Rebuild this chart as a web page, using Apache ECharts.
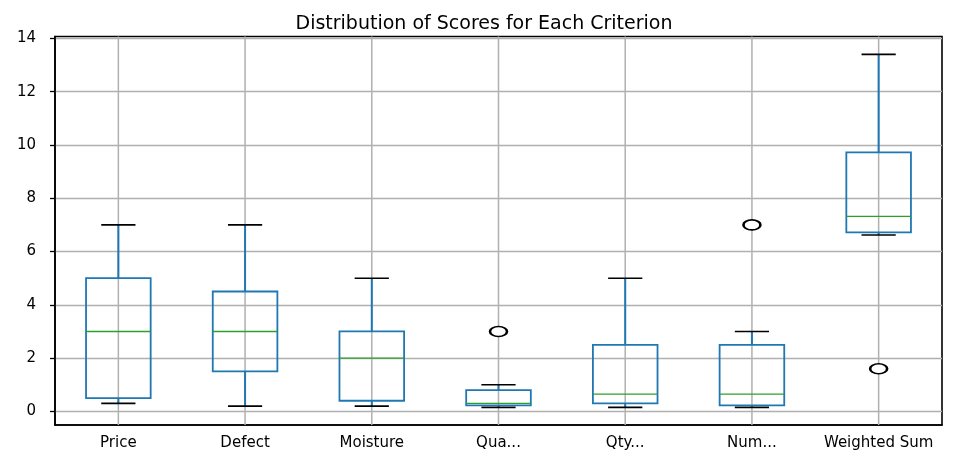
<!DOCTYPE html>
<html>
<head>
<meta charset="utf-8">
<script src="https://cdn.jsdelivr.net/npm/echarts@6/dist/echarts.min.js"></script>
<style>html,body{margin:0;padding:0;background:#fff}#c{width:968px;height:451px}</style>
</head>
<body>
<div id="c"></div>
<script>
const categories = ['Price', 'Defect', 'Moisture', 'Qua...', 'Qty...', 'Num...', 'Weighted Sum'];
const whiskerLow = [0.3, 0.2, 0.2, 0.15, 0.15, 0.15, 6.62];
const q1 = [0.5, 1.5, 0.4, 0.23, 0.3, 0.23, 6.72];
const median = [3, 3, 2, 0.3, 0.65, 0.65, 7.32];
const q3 = [5, 4.5, 3, 0.8, 2.5, 2.5, 9.72];
const whiskerHigh = [7, 7, 5, 1, 5, 3, 13.4];
const outliers = [['Qua...', 3], ['Num...', 7], ['Weighted Sum', 1.6]];
const yTicks = [0, 2, 4, 6, 8, 10, 12, 14];

const boxData = categories.map((c, i) => [i, whiskerLow[i], q1[i], median[i], q3[i], whiskerHigh[i]]);
const FONT = 'DejaVu Sans';

function renderBox(params, api) {
  const x = api.value(0);
  const band = api.size([1, 0])[0];
  const bw = band * 0.51, cw = band * 0.27;
  const p = k => api.coord([x, api.value(k)]);
  const lo = p(1), a = p(2), m = p(3), b = p(4), hi = p(5);
  const cx = lo[0];
  const blue = '#1f77b4';
  const lw = 1.8;
  return {
    type: 'group',
    children: [
      {type: 'line', shape: {x1: cx, y1: lo[1], x2: cx, y2: a[1]}, style: {stroke: blue, lineWidth: 2}},
      {type: 'line', shape: {x1: cx, y1: b[1], x2: cx, y2: hi[1]}, style: {stroke: blue, lineWidth: 2}},
      {type: 'line', shape: {x1: cx - cw / 2, y1: lo[1], x2: cx + cw / 2, y2: lo[1]}, style: {stroke: '#000', lineWidth: 1.6}},
      {type: 'line', shape: {x1: cx - cw / 2, y1: hi[1], x2: cx + cw / 2, y2: hi[1]}, style: {stroke: '#000', lineWidth: 1.6}},
      {type: 'rect', shape: {x: cx - bw / 2, y: b[1], width: bw, height: a[1] - b[1]}, style: {stroke: blue, fill: 'none', lineWidth: lw}},
      {type: 'line', shape: {x1: cx - bw / 2, y1: m[1], x2: cx + bw / 2, y2: m[1]}, style: {stroke: '#2ca02c', lineWidth: 1.4}}
    ]
  };
}

function renderGridLine(params, api) {
  const x = api.value(0);
  const c = api.coord([x, 0]);
  const cs = params.coordSys;
  return {type: 'line', shape: {x1: c[0], y1: cs.y, x2: c[0], y2: cs.y + cs.height}, style: {stroke: '#b0b0b0', lineWidth: 1.5}};
}

const chart = echarts.init(document.getElementById('c'));
chart.setOption({
  animation: false,
  backgroundColor: '#fff',
  title: {
    text: 'Distribution of Scores for Each Criterion',
    left: 'center', top: 10,
    textStyle: {fontFamily: FONT, fontSize: 19, fontWeight: 'normal', color: '#000'}
  },
  grid: {left: 55, right: 26, top: 36.5, bottom: 25, show: true, borderColor: '#000', borderWidth: 1.6, backgroundColor: 'transparent'},
  xAxis: {
    type: 'category', data: categories, boundaryGap: true,
    axisLine: {onZero: false, lineStyle: {color: '#000', width: 1.6}},
    axisTick: {alignWithLabel: true, length: 5, lineStyle: {color: '#000', width: 1.3}},
    axisLabel: {fontFamily: FONT, fontSize: 15, color: '#000', margin: 11, interval: 0},
    splitLine: {show: false}
  },
  yAxis: {
    type: 'value', min: -0.51, max: 14.07,
    axisLine: {show: true, onZero: false, lineStyle: {color: '#000', width: 1.6}},
    axisTick: {show: true, length: 5, customValues: yTicks, lineStyle: {color: '#000', width: 1.3}},
    axisLabel: {fontFamily: FONT, fontSize: 15, color: '#000', margin: 19, customValues: yTicks},
    splitLine: {show: true, lineStyle: {color: '#b0b0b0', width: 1.3}}
  },
  series: [
    {type: 'custom', name: 'grid', renderItem: renderGridLine, data: boxData, encode: {x: 0, y: 1}, silent: true, z: 1},
    {type: 'custom', name: 'box', renderItem: renderBox, data: boxData, encode: {x: 0, y: [1, 2, 3, 4, 5]}, z: 3},
    {type: 'scatter', name: 'outliers', data: outliers, symbol: 'emptyCircle', symbolSize: [17, 10],
      itemStyle: {color: '#000', borderColor: '#000', borderWidth: 1.8, opacity: 1}, z: 4}
  ]
});
</script>
</body>
</html>
